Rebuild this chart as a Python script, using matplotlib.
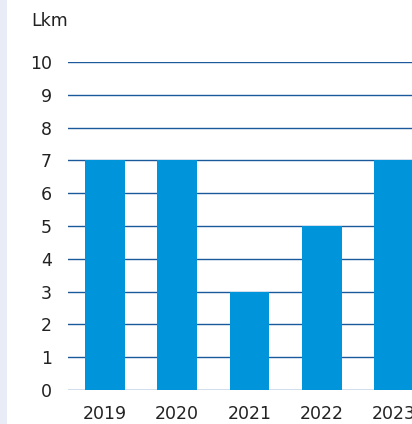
import matplotlib
matplotlib.use("Agg")
import matplotlib.pyplot as plt
from matplotlib.patches import Rectangle

years = ["2019", "2020", "2021", "2022", "2023"]
values = [7, 7, 3, 5, 7]
y_ticks = list(range(0, 11))

plt.rcParams['font.family'] = ['DejaVu Sans']

fig = plt.figure(figsize=(4.12, 4.24), dpi=100)
fig.patch.set_facecolor("white")
# light side strip
fig.patches.append(Rectangle((0, 0), 7 / 412, 1, transform=fig.transFigure,
                             facecolor="#E8ECF7", edgecolor="none", zorder=0))

ax = fig.add_axes([68 / 412, 1 - 390 / 424, 1 - 68 / 412, (390 - 62) / 424])
x = list(range(len(years)))
ax.bar(x, values, width=0.55, color="#0095DA", zorder=3)
ax.set_xlim(-0.51, 4.25)
ax.set_ylim(0, 10)
ax.set_yticks(y_ticks)
ax.set_yticklabels([str(t) for t in y_ticks])
ax.set_xticks(x)
ax.set_xticklabels(years)
ax.tick_params(axis="both", length=0, labelsize=12.5, colors="#222222")
ax.tick_params(axis="y", pad=11.5)
ax.tick_params(axis="x", pad=11)
ax.grid(axis="y", color="#1B5A9A", linewidth=1.0, zorder=0)
ax.set_axisbelow(True)
for s in ax.spines.values():
    s.set_visible(False)
ax.set_facecolor("none")

fig.text(31 / 412, 1 - 21 / 424, "Lkm", fontsize=12.5, color="#222222",
         ha="left", va="center")

fig.savefig("out.png", dpi=100)
